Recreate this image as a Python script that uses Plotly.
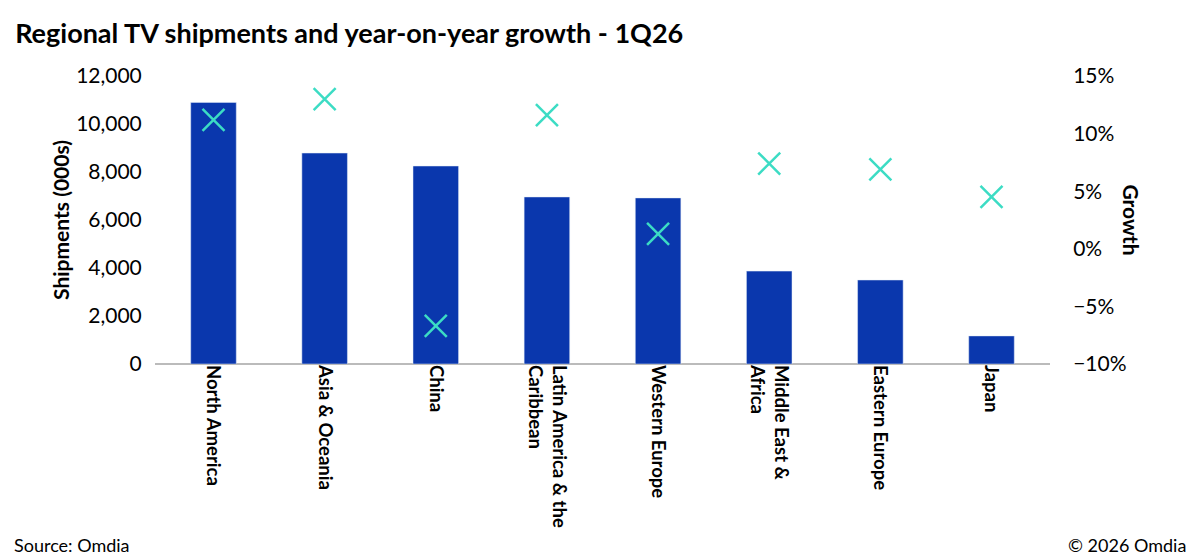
import plotly.graph_objects as go

regions = ["North America", "Asia & Oceania", "China", "Latin America & the<br>Caribbean",
           "Western Europe", "Middle East &<br>Africa", "Eastern Europe", "Japan"]
shipments = [10900, 8790, 8250, 6960, 6920, 3870, 3500, 1170]
growth = [0.112, 0.130, -0.067, 0.116, 0.013, 0.074, 0.069, 0.045]

font = "Lato, Open Sans, sans-serif"

fig = go.Figure()
fig.add_trace(go.Bar(x=regions, y=shipments, marker_color="#0A37AD", width=0.41,
                     name="Shipments"))
fig.add_trace(go.Scatter(x=regions, y=growth, mode="markers", yaxis="y2",
                         marker=dict(symbol="x-thin", size=22, line=dict(width=2.5, color="#3CDCC4")),
                         name="Growth"))

# page body adds an 8px offset, so the figure is 8px smaller than the window
fig.update_layout(
    width=1192, height=551, plot_bgcolor="white", paper_bgcolor="white",
    margin=dict(l=147, r=150, t=68, b=195), showlegend=False,
    font=dict(family=font, color="black", size=21),
    title=dict(text="<b>Regional TV shipments and year-on-year growth - 1Q26</b>",
               x=0.006, xanchor="left", y=1 - 26 / 551, yanchor="middle", font=dict(size=27)),
    xaxis=dict(tickangle=90, tickfont=dict(size=18.5), ticks="", showline=False, automargin=False,
               tickprefix="<b>", ticksuffix="</b>"),
    yaxis=dict(range=[0, 12000], dtick=2000, tickformat=",", showgrid=False, zeroline=True,
               zerolinecolor="#bbbbbb", automargin=False, ticks="outside", ticklen=8,
               tickcolor="white",
               title=dict(text="<b>Shipments (000s)</b>", font=dict(size=21), standoff=0)),
    yaxis2=dict(overlaying="y", side="right", range=[-0.10, 0.15], dtick=0.05, tickformat=".0%",
                showgrid=False, zeroline=False, automargin=False, ticks="outside", ticklen=18,
                tickcolor="white"),
    annotations=[
        dict(text="<b>Growth</b>", x=1, xref="paper", y=0.5, yref="paper", xshift=96,
             textangle=90, showarrow=False, font=dict(size=21)),
        dict(text="Source: Omdia", x=(12 - 155) / 895, y=(364 - 545) / 288, xref="paper", yref="paper",
             showarrow=False, xanchor="left", yanchor="middle", font=dict(size=18)),
        dict(text="© 2026 Omdia", x=(1188 - 155) / 895, y=(364 - 545) / 288, xref="paper", yref="paper",
             showarrow=False, xanchor="right", yanchor="middle", font=dict(size=18)),
    ],
)

fig.write_html("out.html")
